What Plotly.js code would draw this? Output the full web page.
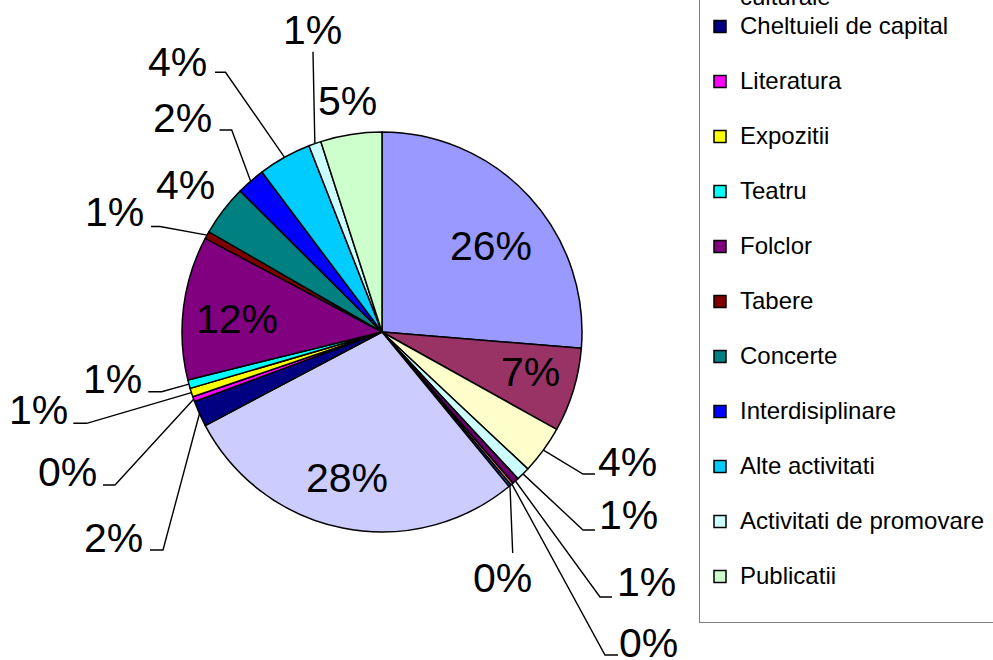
<!DOCTYPE html>
<html>
<head>
<meta charset="utf-8">
<script src="https://cdn.plot.ly/plotly-3.0.1.min.js"></script>
<style>
html,body{margin:0;padding:0;overflow:hidden;background:#ffffff;width:993px;height:660px;}
#chart{position:absolute;left:0;top:-460px;width:993px;height:1120px;}
</style>
</head>
<body>
<div id="chart"></div>
<script>
// ---- data ----
const categories = [
  "Salarii",
  "Cheltuieli materiale",
  "Utilitati",
  "Reparatii curente",
  "Obiecte de inventar",
  "Deplasari",
  "Pregatire profesionala",
  "Cheltuieli pentru manifestari culturale",
  "Cheltuieli de capital",
  "Literatura",
  "Expozitii",
  "Teatru",
  "Folclor",
  "Tabere",
  "Concerte",
  "Interdisiplinare",
  "Alte activitati",
  "Activitati de promovare",
  "Publicatii"
];
const shares = [26.3, 6.8, 3.9, 1.1, 0.55, 0.2, 0.2, 28.2, 2.1, 0.4, 0.7, 0.7, 11.6, 0.6, 4.1, 2.3, 4.3, 1.0, 4.95];
const sliceColors = [
  "#9999FF", "#993366", "#FFFFCC", "#CCFFFF", "#660066", "#FF8080", "#0066CC", "#CCCCFF",
  "#000080", "#FF00FF", "#FFFF00", "#00FFFF", "#800080", "#800000", "#008080", "#0000FF",
  "#00CCFF", "#CCFFFF", "#CCFFCC"
];

// ---- layout helpers (positions in visible pixels) ----
const W = 993, H = 1120, OFF = 460;
const PIE = {cx: 382, cy: 332, r: 200};
const px = x => x / W;
const py = y => 1 - (y + OFF) / H;

// label centre for each slice, and leader-line bend points (visible px)
const labelPos = [
  [491, 246], [530, 372], [627, 462], [628, 515], [646, 582], [648, 643], [503, 578],
  [347, 478], [113, 538], [67, 472], [38, 410], [112, 379], [237, 319], [114, 212],
  [185, 185], [182, 118], [177, 62], [312, 30], [347, 101]
];
const leaderPts = [
  null, null,
  [[583, 474], [595, 474]],
  [[583, 530], [595, 530]],
  [[600, 597], [612, 597]],
  [[605, 655], [618, 655]],
  [[512.7, 553]],
  null,
  [[163, 550], [150, 550]],
  [[115, 485], [103, 485]],
  [[86.7, 423.3], [73.3, 423.3]],
  [[161.7, 391.7], [148.3, 391.7]],
  null,
  [[160, 226.5], [151, 226.5]],
  null,
  [[231.7, 130], [219.5, 130]],
  [[225.5, 72.3], [215, 72.3]],
  [[313, 51.7]],
  null
];

const total = shares.reduce((a, b) => a + b, 0);
const big = s => '<span style="font-size:24px">' + s + '</span>';
const legendLabels = categories.map(c => {
  if (c.length > 30) {
    const i = c.lastIndexOf(' ');
    return big(c.slice(0, i)) + '<br>' + big(c.slice(i + 1));
  }
  return big(c) + '<br>&nbsp;';
});

const FONT = '"Liberation Sans", Arial, sans-serif';
const annotations = [];
const shapes = [];
let cum = 0;
shares.forEach((v, i) => {
  const mid = (cum + v / 2) / total * 2 * Math.PI;
  cum += v;
  annotations.push({
    xref: 'paper', yref: 'paper',
    x: px(labelPos[i][0]), y: py(labelPos[i][1]),
    xanchor: 'center', yanchor: 'middle',
    text: Math.round(v / total * 100) + '%',
    showarrow: false,
    font: {family: FONT, size: 41, color: '#000000'}
  });
  if (leaderPts[i]) {
    const sx = PIE.cx + PIE.r * Math.sin(mid);
    const sy = PIE.cy - PIE.r * Math.cos(mid);
    let d = 'M' + px(sx) + ',' + py(sy);
    leaderPts[i].forEach(p => { d += ' L' + px(p[0]) + ',' + py(p[1]); });
    shapes.push({
      type: 'path', xref: 'paper', yref: 'paper', path: d,
      line: {color: '#000000', width: 1.4}
    });
  }
});

const trace = {
  type: 'pie',
  labels: legendLabels,
  values: shares,
  sort: false,
  direction: 'clockwise',
  rotation: 0,
  textinfo: 'none',
  hoverinfo: 'label+percent',
  marker: {colors: sliceColors, line: {color: '#000000', width: 1.5}},
  domain: {
    x: [px(PIE.cx - PIE.r), px(PIE.cx + PIE.r)],
    y: [py(PIE.cy + PIE.r), py(PIE.cy - PIE.r)]
  }
};

const layout = {
  width: W, height: H,
  margin: {l: 0, r: 0, t: 0, b: 0, pad: 0, autoexpand: false},
  paper_bgcolor: '#ffffff',
  font: {family: FONT, color: '#000000'},
  showlegend: true,
  legend: {
    x: px(699), xanchor: 'left',
    y: py(-434), yanchor: 'top',
    bgcolor: '#ffffff', bordercolor: '#808080', borderwidth: 1,
    font: {family: FONT, size: 20, color: '#000000'},
    valign: 'top',
    traceorder: 'normal'
  },
  annotations: annotations,
  shapes: shapes
};

Plotly.newPlot('chart', [trace], layout, {displayModeBar: false, staticPlot: true});
</script>
</body>
</html>
